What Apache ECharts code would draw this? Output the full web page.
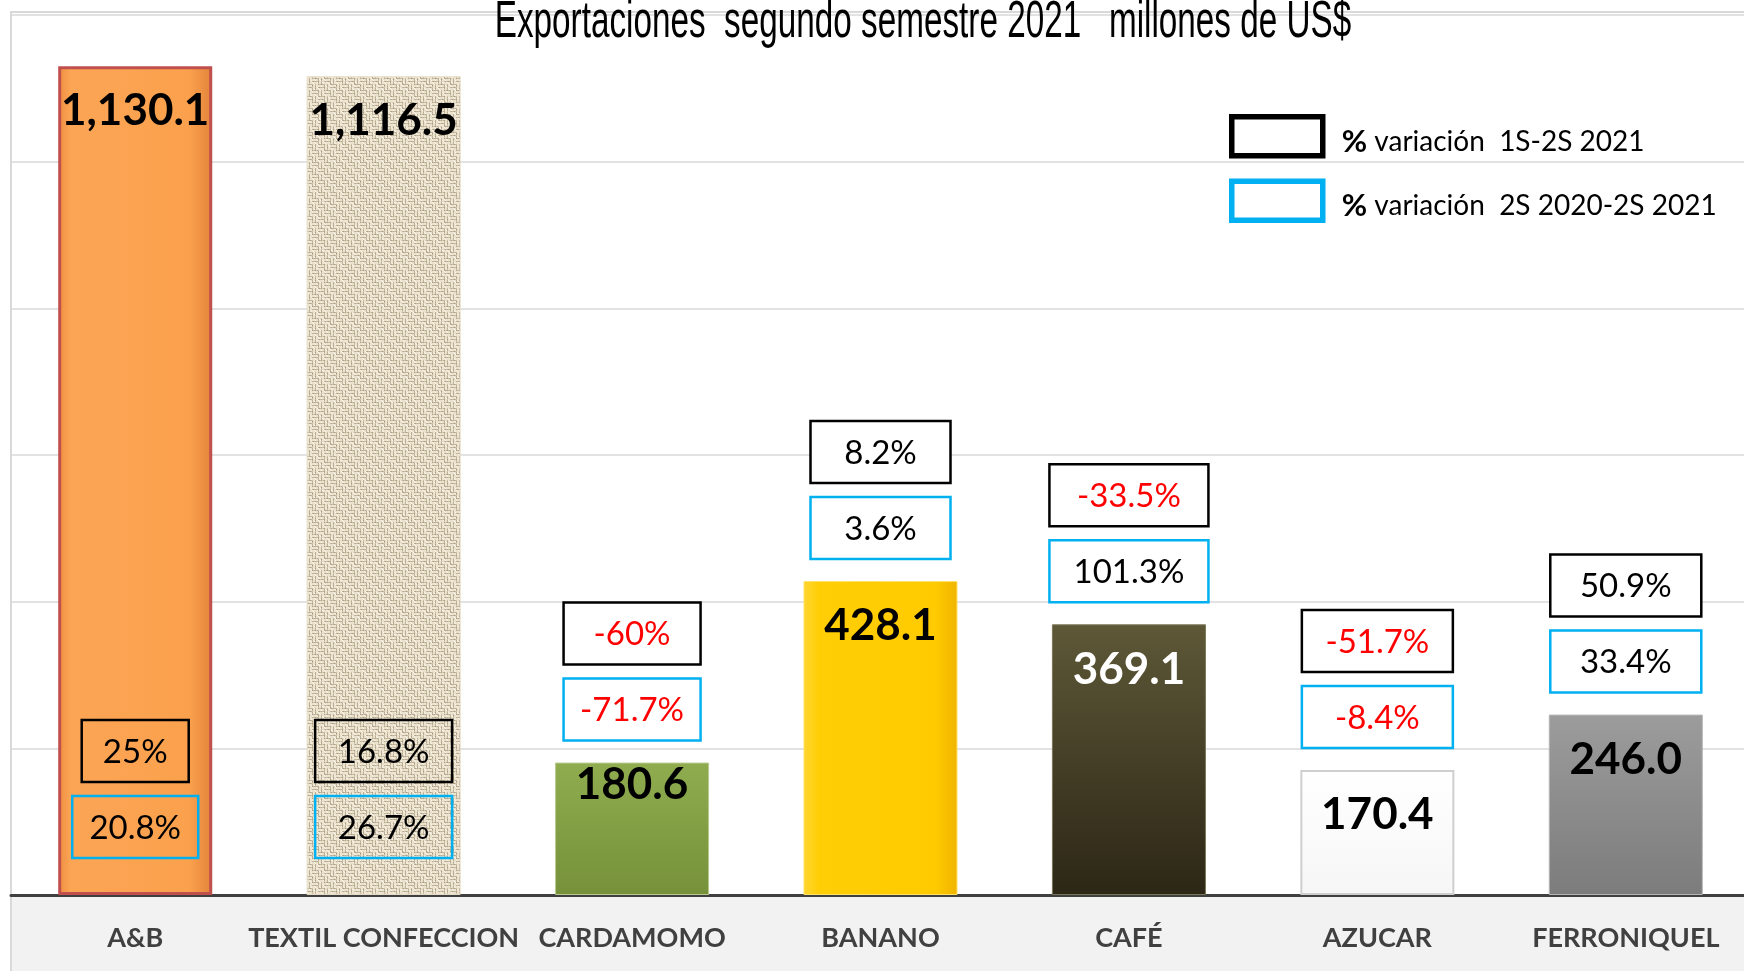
<!DOCTYPE html>
<html lang="es">
<head>
<meta charset="UTF-8">
<title>Exportaciones segundo semestre 2021</title>
<script src="https://cdn.jsdelivr.net/npm/echarts@6/dist/echarts.min.js"></script>
<style>
    html, body { margin: 0; padding: 0; background: #fff; }
    #container { width: 1744px; height: 971px; }
</style>
</head>
<body>
<div id="container"></div>
<script>
    let titleText = 'Exportaciones  segundo semestre 2021   millones de US$';
    let categories = ['A&B', 'TEXTIL CONFECCION', 'CARDAMOMO', 'BANANO', 'CAFÉ', 'AZUCAR', 'FERRONIQUEL'];
    let exports2S = [1130.1, 1116.5, 180.6, 428.1, 369.1, 170.4, 246.0];
    let var1S2S = [25, 16.8, -60, 8.2, -33.5, -51.7, 50.9];
    let var2S2020 = [20.8, 26.7, -71.7, 3.6, 101.3, -8.4, 33.4];
    let seriesNames = ['% variación  1S-2S 2021', '% variación  2S 2020-2S 2021'];
    let yMin = 0, yMax = 1200, yStep = 200;

    // layout of the % boxes (black row, blue row)
    let boxWidths = [[107, 126], [137, 137], [137, 137], [140, 140], [159, 159], [151, 151], [151, 151]];

    // woven sack texture for the textile bar
    function burlap() {
        let n = 24;
        let c = document.createElement('canvas');
        c.width = n;
        c.height = n;
        let g = c.getContext('2d');
        g.fillStyle = '#ebe2ce';
        g.fillRect(0, 0, n, n);
        for (let y = 0; y < n; y++) {
            for (let x = 0; x < n; x++) {
                let cell = (Math.floor(x / 6) + Math.floor(y / 6)) % 2;
                let line = cell ? (y % 3 === 0) : (x % 3 === 0);
                let shade = (x * 7 + y * 13) % 5;
                if (line) {
                    g.fillStyle = 'rgba(120,100,65,' + (0.25 + shade * 0.07) + ')';
                    g.fillRect(x, y, 1, 1);
                } else if (shade === 0) {
                    g.fillStyle = 'rgba(255,255,250,0.6)';
                    g.fillRect(x, y, 1, 1);
                }
            }
        }
        return c;
    }

    function grad(dir, stops) {
        return {
            type: 'linear', x: 0, y: 0, x2: dir === 'h' ? 1 : 0, y2: dir === 'h' ? 0 : 1,
            colorStops: stops.map(s => ({offset: s[0], color: s[1]}))
        };
    }

    let barStyles = [
        {color: grad('h', [[0, '#f08c3e'], [0.08, '#fba555'], [0.85, '#fba14d'], [1, '#e3833a']]), borderColor: '#c0504d', borderWidth: 3},
        {color: {image: burlap(), repeat: 'repeat'}, borderColor: '#e6dcc6', borderWidth: 1},
        {color: grad('v', [[0, '#8fad4f'], [1, '#76913a']]), borderColor: '#b9c98f', borderWidth: 1},
        {color: grad('h', [[0, '#ffd633'], [0.1, '#ffce05'], [0.85, '#ffcb00'], [1, '#f0b400']]), borderColor: '#ffe266', borderWidth: 1},
        {color: grad('v', [[0, '#5e5838'], [1, '#2c2616']]), borderColor: '#7a7558', borderWidth: 1},
        {color: grad('v', [[0, '#ffffff'], [1, '#f6f6f6']]), borderColor: '#cfcfcf', borderWidth: 2},
        {color: grad('v', [[0, '#9c9c9c'], [1, '#7c7c7c']]), borderColor: '#b5b5b5', borderWidth: 1},
    ];

    function fmtPct(p) {
        return (Number.isInteger(p) ? p : p.toFixed(1)) + '%';
    }

    function fmtVal(v) {
        return v.toLocaleString('en-US', {minimumFractionDigits: 1, maximumFractionDigits: 1});
    }

    function boxSeries(name, pcts, row, stroke) {
        return {
            name: name,
            type: 'custom',
            z: 5,
            data: pcts.map((p, i) => [i, exports2S[i], p]),
            renderItem: (params, api) => {
                let i = api.value(0);
                let top = api.coord([i, api.value(1)]);
                let base = api.coord([i, 0]);
                let h = 62;
                let w = boxWidths[i][row];
                let inside = top[1] - 180 < params.coordSys.y;
                let blueTop = inside ? base[1] - 99 : top[1] - 22 - h;
                let y = row === 0 ? blueTop - 76 : blueTop;
                let p = api.value(2);
                return {
                    type: 'group',
                    children: [{
                        type: 'rect',
                        shape: {x: top[0] - w / 2, y: y, width: w, height: h},
                        style: {fill: inside ? 'rgba(0,0,0,0)' : '#fff', stroke: stroke, lineWidth: 2.5}
                    }, {
                        type: 'text',
                        x: top[0],
                        y: y + h / 2 + 1,
                        style: {
                            text: fmtPct(p), fill: p < 0 ? '#ff0000' : '#000',
                            font: '33px Lato', align: 'center', verticalAlign: 'middle'
                        }
                    }]
                };
            }
        };
    }

    let chart = echarts.init(document.getElementById('container'));
    let option = {
        backgroundColor: '#fff',
        animation: false,
        grid: {left: 11, width: 1739, top: 15, bottom: 76, containLabel: false, outerBoundsMode: 'none'},
        graphic: [
            {type: 'rect', z: -10, silent: true, shape: {x: 11, y: 895, width: 1740, height: 80}, style: {fill: '#f2f2f2'}},
            {type: 'rect', z: -9, silent: true, shape: {x: 11, y: 12, width: 1760, height: 980}, style: {fill: 'none', stroke: '#d9d9d9', lineWidth: 2}},
            {
                type: 'text', z: 10, x: 923, y: 23, scaleX: 0.64,
                style: {
                    text: titleText, fill: '#000', font: '52px "Liberation Sans"',
                    align: 'center', verticalAlign: 'middle', textAlign: 'center', textVerticalAlign: 'middle'
                }
            }
        ],
        legend: {
            orient: 'vertical',
            left: 1224,
            top: 109,
            itemWidth: 91,
            itemHeight: 39,
            itemGap: 20,
            selectedMode: false,
            data: [
                {name: seriesNames[0], icon: 'rect', itemStyle: {color: '#fff', borderColor: '#000', borderWidth: 5.5}},
                {name: seriesNames[1], icon: 'rect', itemStyle: {color: '#fff', borderColor: '#00b0f0', borderWidth: 5.5}},
            ],
            formatter: n => '{b|%}' + n.slice(1),
            textStyle: {
                fontFamily: 'Lato', fontSize: 28, color: '#000', padding: [11, 0, 0, 14],
                rich: {b: {fontFamily: 'Lato', fontWeight: 'bold', fontSize: 31, color: '#000'}}
            }
        },
        xAxis: {
            type: 'category',
            data: categories,
            axisLine: {lineStyle: {color: '#404040', width: 3}},
            axisTick: {show: false},
            axisLabel: {interval: 0, margin: 30, color: '#404040', fontFamily: 'Lato', fontWeight: 'bold', fontSize: 27}
        },
        yAxis: {
            type: 'value',
            min: yMin,
            max: yMax,
            interval: yStep,
            axisLabel: {show: false},
            axisLine: {show: false},
            axisTick: {show: false},
            splitLine: {lineStyle: {color: '#d9d9d9', width: 1.5}}
        },
        series: [{
            name: 'Exportaciones',
            type: 'bar',
            barWidth: '62%',
            z: 3,
            label: {
                show: true,
                position: 'insideTop',
                distance: 23,
                formatter: p => fmtVal(p.value),
                fontFamily: 'Lato',
                fontWeight: 'bold',
                fontSize: 44,
                color: '#000'
            },
            data: exports2S.map((v, i) => {
                let item = {value: v, itemStyle: barStyles[i]};
                if (categories[i] === 'CAFÉ') item.label = {color: '#fff'};
                if (categories[i] === 'CARDAMOMO') item.label = {distance: 0};
                return item;
            })
        },
            boxSeries(seriesNames[0], var1S2S, 0, '#000'),
            boxSeries(seriesNames[1], var2S2020, 1, '#00b0f0')
        ]
    };
    chart.setOption(option);
</script>
</body>
</html>
